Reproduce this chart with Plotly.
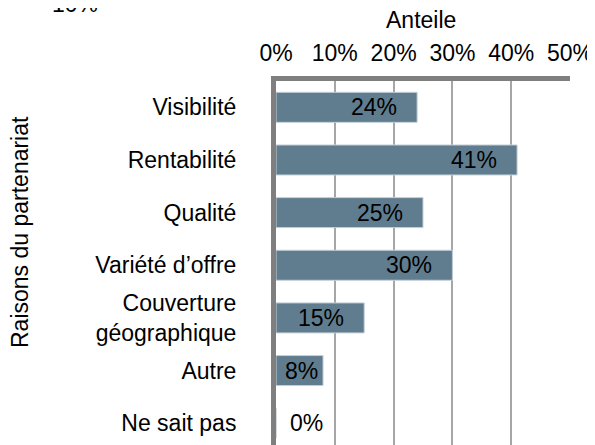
import plotly.graph_objects as go

categories = ["Visibilité", "Rentabilité", "Qualité", "Variété d’offre",
              "Couverture<br>géographique", "Autre", "Ne sait pas"]
values = [0.24, 0.41, 0.25, 0.30, 0.15, 0.08, 0.00]
labels = ["24%", "41%", "25%", "30%", "15%", "8%", "0%"]
tick_vals = [0, 0.1, 0.2, 0.3, 0.4, 0.5]
tick_text = ["0%", "10%", "20%", "30%", "40%", "50%"]

FONT = "Liberation Sans, Arial, sans-serif"
FS = 23
OFF = 8  # default page body margin
W, H = 595 - OFF, 445 - OFF
# plot area in screen pixels: x 276..570, y 81..445
L, R, T, B = 276 - OFF, 25, 81 - OFF, 0
PW, PH = W - L - R, H - T - B


def px(sx):
    return (sx - OFF - L) / PW


def py(sy):
    return (H - B - (sy - OFF)) / PH


fig = go.Figure()
fig.add_trace(go.Bar(
    y=categories, x=values, orientation="h",
    marker=dict(color="#607d8f", line=dict(color="#c5d0d8", width=1)),
    width=0.57,
))

ann = []
for c, v, t in zip(categories, values, labels):
    if v >= 0.1:
        anchor, shift = "right", -18
    elif v > 0:
        anchor, shift = "right", -3
    else:
        anchor, shift = "left", 12
    ann.append(dict(x=v, y=c, xref="x", yref="y", text=t, showarrow=False,
                    xanchor=anchor, xshift=shift,
                    font=dict(family=FONT, size=FS, color="#000000")))

# y-axis title
ann.append(dict(x=px(20), y=py(232), xref="paper", yref="paper", text="Raisons du partenariat",
                showarrow=False, textangle=-90, font=dict(family=FONT, size=FS, color="#000"),
                xanchor="center", yanchor="middle"))
# x-axis title
ann.append(dict(x=px(421), y=py(20), xref="paper", yref="paper", text="Anteile",
                showarrow=False, font=dict(family=FONT, size=FS, color="#000"),
                xanchor="center", yanchor="middle"))
# clipped label at top-left (only its lower edge shows)
ann.append(dict(x=px(75), y=py(12), xref="paper", yref="paper", text="10%",
                showarrow=False, xanchor="center", yanchor="bottom", yshift=-7,
                font=dict(family=FONT, size=FS, color="#000")))

fig.update_layout(
    width=W, height=H,
    margin=dict(l=L, r=R, t=T, b=B, pad=0, autoexpand=False),
    paper_bgcolor="white", plot_bgcolor="white",
    showlegend=False,
    annotations=ann,
    font=dict(family=FONT, size=FS, color="#000"),
    xaxis=dict(
        side="top", range=[0, 0.5], tickvals=tick_vals, ticktext=tick_text,
        showgrid=True, gridcolor="#a6a6a6", gridwidth=2,
        showline=True, linecolor="#7f7f7f", linewidth=5,
        zeroline=False, ticks="", ticklabelstandoff=6, automargin=False,
        tickfont=dict(family=FONT, size=FS, color="#000"),
    ),
    yaxis=dict(
        categoryorder="array", categoryarray=categories,
        range=[6.414, -0.5], autorange=False,
        showgrid=False, showline=True, linecolor="#7f7f7f", linewidth=5,
        zeroline=False, ticks="", ticklabelstandoff=30, automargin=False,
        tickfont=dict(family=FONT, size=FS, color="#000"),
    ),
)

fig.write_html("out.html")
